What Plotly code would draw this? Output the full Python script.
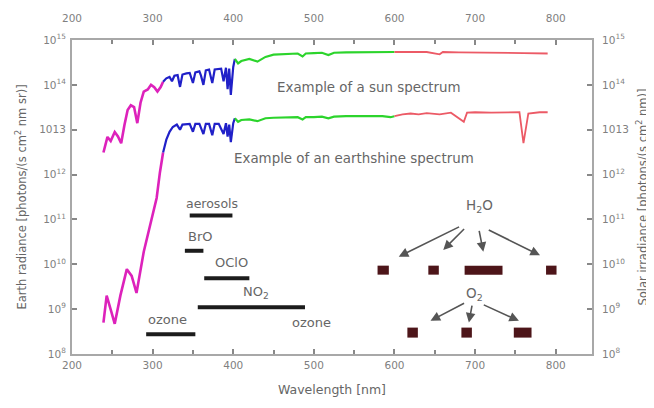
import plotly.graph_objects as go

# ---------------- data ----------------
sun_uv_wl = [239, 244, 248, 253, 257, 261, 265, 269, 273, 277, 281, 285, 289, 294, 298, 302, 306, 310, 313]
sun_uv_val = [3.1e12, 6.9e12, 5.6e12, 8.9e12, 7.1e12, 5.0e12, 1.26e13, 2.75e13, 3.5e13, 3.2e13, 1.4e13,
              4.0e13, 7.1e13, 7.9e13, 1.0e14, 8.9e13, 7.1e13, 8.9e13, 1.17e14]
sun_blue_wl = [313, 317, 321, 324, 327, 331, 334, 337, 342, 346, 350, 353, 358, 360, 363, 366, 370, 374,
               377, 382, 385, 388, 391, 393, 395, 397, 400, 402]
sun_blue_val = [1.17e14, 1.4e14, 1.5e14, 1.2e14, 1.6e14, 1.65e14, 9.0e13, 1.7e14, 1.8e14, 1.85e14, 1.1e14,
                1.9e14, 2.0e14, 1.6e14, 1.0e14, 2.1e14, 2.2e14, 1.1e14, 2.2e14, 2.3e14, 2.3e14, 1.2e14,
                2.4e14, 8.0e13, 2.3e14, 6.0e13, 2.5e14, 3.8e14]
sun_green_wl = [402, 406, 410, 420, 430, 440, 450, 460, 470, 480, 486, 490, 500, 510, 518, 525, 540, 555,
                570, 585, 600]
sun_green_val = [3.8e14, 3.0e14, 3.4e14, 3.8e14, 3.3e14, 4.2e14, 4.7e14, 4.8e14, 4.9e14, 5.0e14, 4.3e14,
                 5.0e14, 5.1e14, 5.2e14, 4.6e14, 5.2e14, 5.3e14, 5.3e14, 5.4e14, 5.4e14, 5.4e14]
sun_red_wl = [600, 620, 640, 656, 660, 680, 700, 720, 740, 760, 790]
sun_red_val = [5.4e14, 5.4e14, 5.4e14, 4.8e14, 5.4e14, 5.3e14, 5.3e14, 5.2e14, 5.2e14, 5.1e14, 5.0e14]

earth_uv_wl = [239, 243, 249, 253, 260, 268, 274, 280, 289, 297, 305, 309, 313]
earth_uv_val = [5.0e8, 2.0e9, 8.5e8, 4.7e8, 2.0e9, 7.8e9, 5.5e9, 2.3e9, 1.9e10, 7.1e10, 3.0e11, 1.1e12, 3.1e12]
earth_blue_wl = [313, 317, 321, 325, 330, 334, 337, 342, 346, 350, 353, 358, 363, 366, 370, 374, 377, 382,
                 388, 391, 393, 395, 397, 400, 402]
earth_blue_val = [3.1e12, 6.0e12, 9.0e12, 1.15e13, 1.3e13, 1.0e13, 1.3e13, 1.35e13, 1.35e13, 9.0e12, 1.35e13,
                  1.35e13, 8.0e12, 1.35e13, 1.35e13, 7.5e12, 1.35e13, 1.35e13, 8.0e12, 1.4e13, 7.0e12,
                  1.3e13, 5.3e12, 1.4e13, 1.8e13]
earth_green_wl = [402, 406, 410, 420, 430, 440, 450, 460, 470, 480, 486, 490, 500, 510, 518, 525, 540, 555,
                  570, 585, 595, 600]
earth_green_val = [1.8e13, 1.5e13, 1.65e13, 1.7e13, 1.55e13, 1.8e13, 1.85e13, 1.85e13, 1.9e13, 1.9e13,
                   1.7e13, 1.9e13, 1.9e13, 1.95e13, 1.8e13, 1.95e13, 2.0e13, 2.0e13, 2.0e13, 2.0e13,
                   1.9e13, 2.0e13]
earth_red_wl = [600, 610, 620, 630, 640, 656, 670, 686, 690, 700, 720, 740, 755, 760, 762, 766, 780, 790]
earth_red_val = [2.0e13, 2.2e13, 2.3e13, 2.2e13, 2.35e13, 2.2e13, 2.4e13, 1.5e13, 2.4e13, 2.45e13, 2.4e13,
                 2.45e13, 2.45e13, 5.0e12, 8.0e12, 2.3e13, 2.45e13, 2.45e13]

absorber_names = ["aerosols", "BrO", "OClO", "NO<sub>2</sub>", "ozone"]
absorber_start = [346, 340, 364, 356, 292]
absorber_end = [399, 363, 420, 489, 353]
absorber_level = [1.23e11, 2.0e10, 4.9e9, 1.1e9, 2.75e8]

h2o_start = [579, 642, 687, 788]
h2o_end = [593, 655, 734, 801]
h2o_level = 7.4e9
o2_start = [616, 683, 748]
o2_end = [629, 696, 770]
o2_level = 3.0e8

x_ticks = [200, 300, 400, 500, 600, 700, 800]
y_tickvals = [1e8, 1e9, 1e10, 1e11, 1e12, 1e13, 1e14, 1e15]
y_ticktext = ["10<sup>8</sup>", "10<sup>9</sup>", "10<sup>10</sup>", "10<sup>11</sup>",
              "10<sup>12</sup>", "1013", "10<sup>14</sup>", "10<sup>15</sup>"]

# ---------------- figure ----------------
MAG, BLUE, GREEN, RED = "#dd22bb", "#2020c8", "#2cd42c", "#ec5a66"
fig = go.Figure()

def line(x, y, color, width=2.2):
    fig.add_trace(go.Scatter(x=x, y=y, mode="lines", line=dict(color=color, width=width),
                             showlegend=False, hoverinfo="skip"))

line(sun_uv_wl, sun_uv_val, MAG, 2.6)
line(sun_blue_wl, sun_blue_val, BLUE)
line(sun_green_wl, sun_green_val, GREEN)
line(sun_red_wl, sun_red_val, RED, 1.8)
line(earth_uv_wl, earth_uv_val, MAG, 2.6)
line(earth_blue_wl, earth_blue_val, BLUE)
line(earth_green_wl, earth_green_val, GREEN)
line(earth_red_wl, earth_red_val, RED, 1.8)

for s, e, lv in zip(absorber_start, absorber_end, absorber_level):
    line([s, e], [lv, lv], "#1c1c1c", 4)
for s, e in zip(h2o_start, h2o_end):
    line([s, e], [h2o_level, h2o_level], "#4d1519", 9)
for s, e in zip(o2_start, o2_end):
    line([s, e], [o2_level, o2_level], "#4d1519", 10)

# invisible trace for secondary axes
fig.add_trace(go.Scatter(x=[200], y=[1e8], xaxis="x2", yaxis="y2", mode="markers",
                         marker=dict(opacity=0), showlegend=False, hoverinfo="skip"))

TXT = "#666666"
FONT = "DejaVu Sans, Verdana, sans-serif"
ann = []
def text(x, ylog, t, size=13):
    ann.append(dict(x=x, y=ylog, xref="x", yref="y", text=t, showarrow=False,
                    font=dict(size=size, color=TXT, family=FONT)))

text(569, 13.95, "Example of a sun spectrum", 13.4)
text(550, 12.36, "Example of an earthshine spectrum", 13.4)
text(374, 11.36, absorber_names[0], 12.5)
text(359, 10.62, absorber_names[1])
text(397.5, 10.04, absorber_names[2])
text(428.6, 9.36, absorber_names[3])
text(319, 8.78, absorber_names[4])
text(497, 8.71, absorber_names[4])
text(705.6, 11.29, "H<sub>2</sub>O", 13.5)
text(699.4, 9.33, "O<sub>2</sub>", 13.5)

arrows = [
    (605.3, 10.17, 682.0, 10.85), (660.5, 10.32, 688.2, 10.82),
    (710.2, 10.28, 704.7, 10.78), (780.5, 10.20, 715.1, 10.78),
    (644.7, 8.74, 688.2, 9.15), (692.3, 8.70, 696.5, 9.11), (754.4, 8.74, 708.9, 9.11),
]
for hx, hy, tx, ty in arrows:
    ann.append(dict(x=hx, y=hy, ax=tx, ay=ty, xref="x", yref="y", axref="x", ayref="y",
                    text="", showarrow=True, arrowhead=2, arrowsize=1.2, arrowwidth=1.6,
                    arrowcolor="#555555", standoff=0))

axis_common = dict(showline=True, linecolor="#a8a8a8", linewidth=2, ticks="inside",
                   tickcolor="#888888", ticklen=5, tickwidth=1.5, showgrid=False, zeroline=False,
                   automargin=False,
                   tickfont=dict(size=10.5, color="#808080", family=FONT))
minor = dict(ticks="inside", dtick=50, tick0=200, ticklen=4, tickcolor="#888888")
TFONT = dict(size=11.5, color=TXT, family=FONT)

xr = [200, 845]
fig.update_layout(
    width=646, height=400,
    margin=dict(l=64, r=62, t=32, b=54, autoexpand=False),
    paper_bgcolor="white", plot_bgcolor="white",
    font=dict(family=FONT, color=TXT),
    xaxis=dict(range=xr, tickvals=x_ticks, minor=minor,
               title=dict(text="Wavelength [nm]", font=dict(size=12.5, color=TXT, family=FONT), standoff=16),
               **axis_common),
    xaxis2=dict(range=xr, tickvals=x_ticks, overlaying="x", side="top", anchor="y",
                minor=minor, ticklabelstandoff=12, **axis_common),
    yaxis=dict(type="log", range=[8, 15], tickvals=y_tickvals, ticktext=y_ticktext, ticklabelstandoff=2,
               title=dict(text="Earth radiance [photons/(s cm<sup>2</sup> nm sr)]", font=TFONT, standoff=10),
               **axis_common),
    yaxis2=dict(type="log", range=[8, 15], tickvals=y_tickvals, ticktext=y_ticktext,
                overlaying="y", side="right", anchor="x", ticklabelstandoff=6,
                title=dict(text="Solar irradiance [photons/(s cm<sup>2</sup> nm)]", font=TFONT, standoff=11),
                **axis_common),
    annotations=ann,
)

fig.write_html("out.html")
